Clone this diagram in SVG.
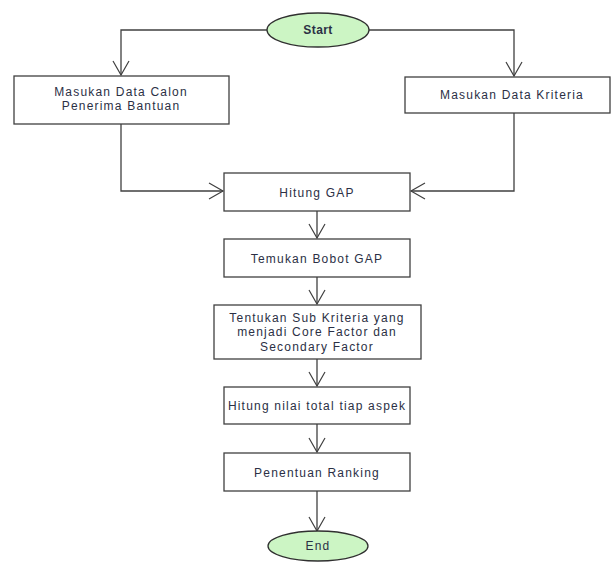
<svg xmlns="http://www.w3.org/2000/svg" width="611" height="562" viewBox="0 0 611 562">
<style>
.box{fill:#fff;stroke:#404040;stroke-width:1.3}
.term{fill:#ccf5c4;stroke:#303030;stroke-width:1.3}
.t{font-family:"Liberation Sans",Arial,sans-serif;font-size:12px;fill:#2b3045;text-anchor:middle;letter-spacing:1.2px}
.tb{font-weight:bold;letter-spacing:0.4px}
.c{fill:none;stroke:#404040;stroke-width:1.3}
</style>
<defs>
<marker id="ah" markerUnits="userSpaceOnUse" markerWidth="18" markerHeight="18" refX="15" refY="9" orient="auto">
<path d="M1,1 L15,9 L1,17" fill="none" stroke="#404040" stroke-width="1.2"/>
</marker>
</defs>
<g id="connectors">
<path class="c" d="M267,30 H121 V75" marker-end="url(#ah)"/>
<path class="c" d="M369,30 H514 V76" marker-end="url(#ah)"/>
<path class="c" d="M121,124 V191 H223" marker-end="url(#ah)"/>
<path class="c" d="M514,113 V191 H411" marker-end="url(#ah)"/>
<path class="c" d="M317,211 V238" marker-end="url(#ah)"/>
<path class="c" d="M317,277 V304" marker-end="url(#ah)"/>
<path class="c" d="M317,359 V386" marker-end="url(#ah)"/>
<path class="c" d="M317,424 V452" marker-end="url(#ah)"/>
<path class="c" d="M317,491 V531" marker-end="url(#ah)"/>
</g>
<g id="start">
<ellipse class="term" cx="318" cy="30" rx="51" ry="17"/>
<text class="t tb" x="318" y="34">Start</text>
</g>
<g id="masukan-calon">
<rect class="box" x="14" y="76" width="215" height="48"/>
<text class="t" x="121" y="96">Masukan Data Calon</text>
<text class="t" x="121" y="110">Penerima Bantuan</text>
</g>
<g id="masukan-kriteria">
<rect class="box" x="405" y="77" width="205" height="36"/>
<text class="t" x="512" y="99">Masukan Data Kriteria</text>
</g>
<g id="hitung-gap">
<rect class="box" x="224" y="173" width="186" height="38"/>
<text class="t" x="317" y="197">Hitung GAP</text>
</g>
<g id="temukan-bobot">
<rect class="box" x="224" y="239" width="186" height="38"/>
<text class="t" x="317" y="263">Temukan Bobot GAP</text>
</g>
<g id="tentukan-sub">
<rect class="box" x="214" y="305" width="207" height="54"/>
<text class="t" x="317" y="322">Tentukan Sub Kriteria yang</text>
<text class="t" x="317" y="336">menjadi Core Factor dan</text>
<text class="t" x="317" y="351">Secondary Factor</text>
</g>
<g id="hitung-nilai">
<rect class="box" x="224" y="387" width="186" height="37"/>
<text class="t" x="317" y="410">Hitung nilai total tiap aspek</text>
</g>
<g id="penentuan">
<rect class="box" x="224" y="453" width="186" height="38"/>
<text class="t" x="317" y="477">Penentuan Ranking</text>
</g>
<g id="end">
<ellipse class="term" cx="318" cy="546" rx="50" ry="15"/>
<text class="t" x="318" y="550">End</text>
</g>
</svg>
